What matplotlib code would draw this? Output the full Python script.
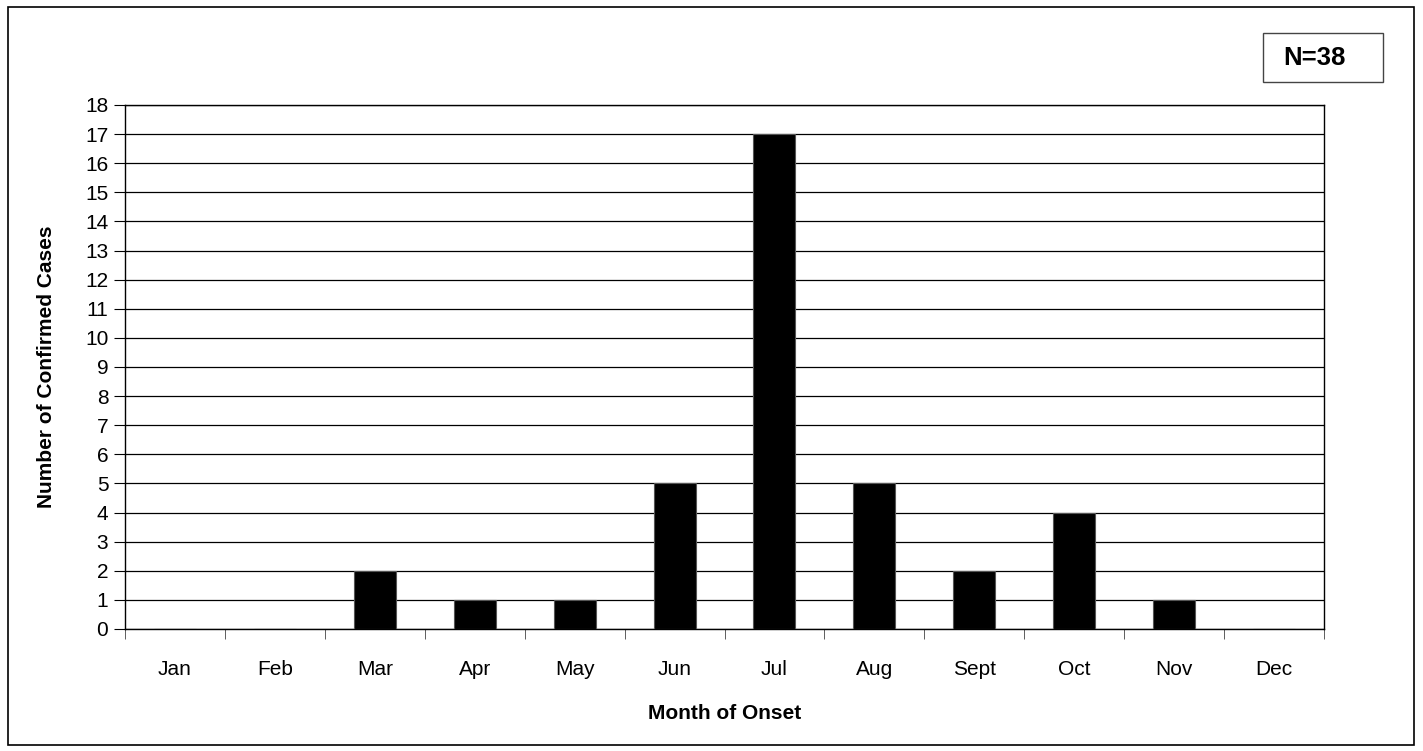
import matplotlib.pyplot as plt
from matplotlib.patches import Rectangle

months = ['Jan', 'Feb', 'Mar', 'Apr', 'May', 'Jun', 'Jul', 'Aug', 'Sept', 'Oct', 'Nov', 'Dec']
cases = [0, 0, 2, 1, 1, 5, 17, 5, 2, 4, 1, 0]
total_label = 'N=38'

plt.rcParams['font.family'] = ['Liberation Sans', 'DejaVu Sans']

W, H = 1423, 751
fig = plt.figure(figsize=(W / 100, H / 100), dpi=100)
ax = fig.add_axes([125 / W, 1 - 629 / H, (1324 - 125) / W, (629 - 105) / H])

x = list(range(len(months)))
ax.bar(x, cases, width=0.42, color='black', edgecolor='#555555', linewidth=0.8, zorder=3)

ax.set_xlim(-0.5, len(months) - 0.5)
ax.set_ylim(0, 18)
ax.set_yticks(range(0, 19))
ax.yaxis.grid(True, color='black', linewidth=0.9, zorder=0)
ax.set_axisbelow(True)

# month labels between boundary ticks
ax.set_xticks(x)
ax.set_xticklabels(months, fontsize=15)
ax.tick_params(axis='x', length=0, pad=22)
ax.set_xticks([i - 0.5 for i in range(len(months) + 1)], minor=True)
ax.tick_params(axis='x', which='minor', length=7, direction='out', color='#444444')
ax.tick_params(axis='y', length=8, direction='out', labelsize=15, pad=4)

for s in ax.spines.values():
    s.set_color('black')
    s.set_linewidth(1.0)

ax.set_xlabel('Month of Onset', fontsize=15, fontweight='bold', labelpad=18)
ax.set_ylabel('Number of Confirmed Cases', fontsize=15, fontweight='bold', labelpad=21)

# outer frame around the whole chart
fig.patches.append(Rectangle((8 / W, 1 - 745 / H), (1414 - 8) / W, (745 - 7) / H,
                             transform=fig.transFigure, fill=False,
                             edgecolor='black', linewidth=1.2))

# N box
fig.patches.append(Rectangle((1263 / W, 1 - 82 / H), (1383 - 1263) / W, (82 - 33) / H,
                             transform=fig.transFigure, fill=False,
                             edgecolor='#444444', linewidth=1.0))
fig.text(1314 / W, 1 - 58 / H, total_label, ha='center', va='center',
         fontsize=18.5, fontweight='bold')

fig.savefig('out.png', dpi=100)
